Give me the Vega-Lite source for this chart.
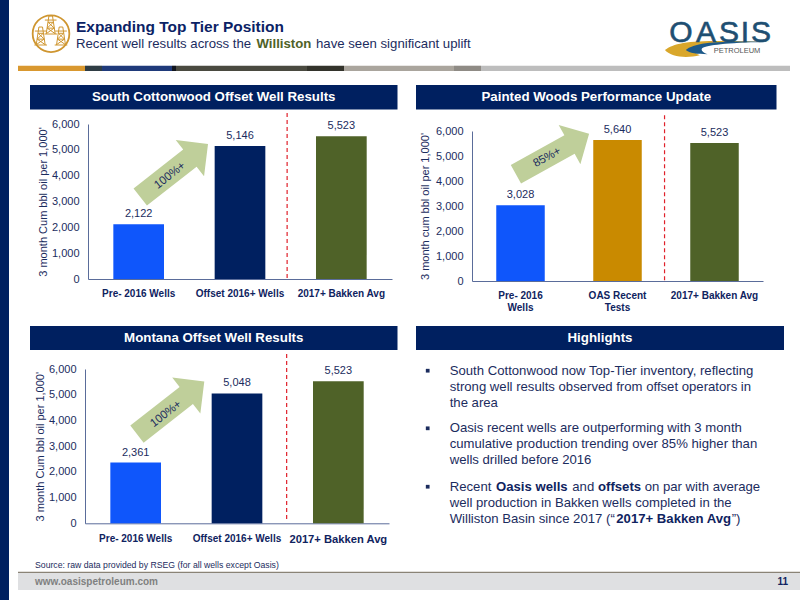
{"$schema":"https://vega.github.io/schema/vega-lite/v6.json","padding":0,"background":"white","spacing":0,"resolve":{"scale":{"color":"independent"}},"config":{"view":{"stroke":null},"font":"Liberation Sans","text":{"font":"Liberation Sans"},"axis":{"labelFont":"Liberation Sans","titleFont":"Liberation Sans"},"axisY":{"tickCount":7,"labelOverlap":false}},"hconcat":[
{"data":{"values":[]},"mark":"rect","width":9,"height":600,"view":{"fill":"#002060"}},
{"spacing":0,"resolve":{"scale":{"color":"independent"}},"vconcat":[
{"width":791,"height":71,"layer":[
{"data":{"values":[{"part":"gold","start":9,"end":76},{"part":"slate","start":76,"end":93},{"part":"navy","start":93,"end":163},{"part":"black","start":163,"end":167},{"part":"olive","start":167,"end":298},{"part":"dark","start":298,"end":335},{"part":"taupe","start":335,"end":445},{"part":"stone","start":445,"end":472},{"part":"grey","start":472,"end":781}]},"mark":"rect","encoding":{"x":{"field":"start","type":"quantitative","axis":null,"scale":{"domain":[0,791]}},"x2":{"field":"end"},"y":{"datum":65.7,"type":"quantitative","axis":null,"scale":{"domain":[71,0]}},"y2":{"datum":71},"color":{"field":"part","type":"nominal","legend":null,"scale":{"domain":["gold","slate","navy","black","olive","dark","taupe","stone","grey"],"range":["#d9982f","#2f3d44","#1f3a7a","#12161f","#4a4a40","#33332b","#aaa59d","#8f8b85","#bdbdbd"]}}}},
{"data":{"values":[{"col":67,"line":27.3,"t":"Expanding Top Tier Position"}]},"mark":{"type":"text","align":"left","fontSize":15.45,"fontWeight":"bold","color":"#0b2265"},"encoding":{"x":{"field":"col","type":"quantitative","axis":null,"scale":{"domain":[0,791]}},"y":{"field":"line","type":"quantitative","axis":null,"scale":{"domain":[71,0]}},"text":{"field":"t"}}},
{"data":{"values":[{"col":67,"line":43.5,"t":"Recent well results across the"},{"col":307,"line":43.5,"t":"have seen significant uplift"}]},"mark":{"type":"text","align":"left","fontSize":13.2,"color":"#1b2c5e"},"encoding":{"x":{"field":"col","type":"quantitative","axis":null,"scale":{"domain":[0,791]}},"y":{"field":"line","type":"quantitative","axis":null,"scale":{"domain":[71,0]}},"text":{"field":"t"}}},
{"data":{"values":[{"col":247.5,"line":43.5,"t":"Williston"}]},"mark":{"type":"text","align":"left","fontSize":13.2,"fontWeight":"bold","color":"#4f6228"},"encoding":{"x":{"field":"col","type":"quantitative","axis":null,"scale":{"domain":[0,791]}},"y":{"field":"line","type":"quantitative","axis":null,"scale":{"domain":[71,0]}},"text":{"field":"t"}}},
{"data":{"values":[{"col":42,"line":33.7}]},"mark":{"type":"point","shape":"circle","size":1345,"color":"#cf9630","strokeWidth":1.8,"opacity":1},"encoding":{"x":{"field":"col","type":"quantitative","axis":null,"scale":{"domain":[0,791]}},"y":{"field":"line","type":"quantitative","axis":null,"scale":{"domain":[71,0]}}}},
{"data":{"values":[{"col":41.7,"line":25},{"col":31.7,"line":36},{"col":52,"line":36}]},"mark":{"type":"point","shape":"M-0.5,1 L-0.2,-1 L0.2,-1 L0.5,1 M-0.7,1 L0.7,1 M-0.38,0.35 L0.38,0.35 M-0.28,-0.3 L0.28,-0.3 M-0.65,-0.55 L0.65,-0.55 M-0.4,0.35 L0.28,-0.3 M0.4,0.35 L-0.28,-0.3 M-0.48,0.95 L0.38,0.35 M0.48,0.95 L-0.38,0.35","size":324,"color":"#cf9630","strokeWidth":1,"opacity":1},"encoding":{"x":{"field":"col","type":"quantitative","axis":null,"scale":{"domain":[0,791]}},"y":{"field":"line","type":"quantitative","axis":null,"scale":{"domain":[71,0]}}}},
{"data":{"values":[{"col":709,"line":47}]},"mark":{"type":"point","shape":"M-1.02,0.06 C-0.8,-0.12 -0.4,-0.14 1,-0.1 C0.2,-0.1 -0.3,-0.05 -0.42,0.06 C-0.45,0.12 -0.4,0.14 -0.35,0.16 C-0.6,0.22 -0.9,0.2 -1.02,0.06 Z","size":10816,"filled":true,"color":"#d9a72b","opacity":1,"strokeWidth":0},"encoding":{"x":{"field":"col","type":"quantitative","axis":null,"scale":{"domain":[0,791]}},"y":{"field":"line","type":"quantitative","axis":null,"scale":{"domain":[71,0]}}}},
{"data":{"values":[{"col":709,"line":47}]},"mark":{"type":"point","shape":"M-0.62,0.06 C-0.45,-0.1 0.1,-0.12 1,-0.1 C0.2,-0.09 -0.2,-0.04 -0.3,0.02 C-0.34,0.05 -0.3,0.1 -0.2,0.14 C-0.4,0.14 -0.55,0.12 -0.62,0.06 Z","size":10816,"filled":true,"color":"#1d5a8a","opacity":1,"strokeWidth":0},"encoding":{"x":{"field":"col","type":"quantitative","axis":null,"scale":{"domain":[0,791]}},"y":{"field":"line","type":"quantitative","axis":null,"scale":{"domain":[71,0]}}}},
{"data":{"values":[{"col":672,"t":"O"},{"col":697,"t":"A"},{"col":720,"t":"S"},{"col":736,"t":"I"},{"col":752,"t":"S"}]},"mark":{"type":"text","align":"center","baseline":"alphabetic","fontSize":30,"color":"#1e4f72","stroke":"#1e4f72","strokeWidth":0.6},"encoding":{"x":{"field":"col","type":"quantitative","axis":null,"scale":{"domain":[0,791]}},"y":{"datum":41.5,"type":"quantitative","axis":null,"scale":{"domain":[71,0]}},"text":{"field":"t"}}},
{"data":{"values":[{"col":728,"line":50.5,"t":"PETROLEUM"}]},"mark":{"type":"text","align":"center","fontSize":7.5,"color":"#555555"},"encoding":{"x":{"field":"col","type":"quantitative","axis":null,"scale":{"domain":[0,791]}},"y":{"field":"line","type":"quantitative","axis":null,"scale":{"domain":[71,0]}},"text":{"field":"t"}}}
]},
{"spacing":0,"resolve":{"scale":{"color":"independent"}},"hconcat":[
{"data":{"values":[]},"mark":"rect","width":20.5,"height":1},
{"spacing":0,"resolve":{"scale":{"color":"independent"}},"vconcat":[
{"data":{"values":[]},"mark":"rect","width":1,"height":14},
{"data":{"values":[{"t":"South Cottonwood Offset Well Results"}]},"width":367.5,"height":24.5,"view":{"fill":"#002060"},"mark":{"type":"text","fontSize":13.3,"fontWeight":"bold","color":"white"},"encoding":{"text":{"field":"t"}}},
{"data":{"values":[]},"mark":"rect","width":1,"height":1},
{"spacing":0,"hconcat":[
{"data":{"values":[]},"mark":"rect","width":6.5,"height":1},
{"width":304,"height":155,"encoding":{"x":{"field":"cat","type":"nominal","sort":null,"title":null,"scale":{"domain":["Pre- 2016 Wells","Offset 2016+ Wells","2017+ Bakken Avg"],"paddingInner":0.5,"paddingOuter":0.25},"axis":{"labelAngle":0,"labelFontSize":10,"labelFontWeight":"bold","labelColor":"#0f2360","labelPadding":9,"labelLimit":200,"ticks":false,"domainColor":"#5a6c9a"}},"y":{"type":"quantitative","scale":{"domain":[0,6000],"nice":false}}},"layer":[
{"data":{"values":[{"cat":"Pre- 2016 Wells","oil":2122},{"cat":"Offset 2016+ Wells","oil":5146},{"cat":"2017+ Bakken Avg","oil":5523}]},"mark":"bar","encoding":{"y":{"field":"oil","type":"quantitative","title":"3 month Cum bbl oil per 1,000'","scale":{"domain":[0,6000],"nice":false},"axis":{"values":[0,1000,2000,3000,4000,5000,6000],"tickCount":7,"labelOverlap":false,"format":",d","grid":false,"ticks":false,"labelFontSize":11,"labelColor":"#1b2c5e","labelPadding":9,"titleFontSize":11,"titleFontWeight":"normal","titleColor":"#1b2c5e","titlePadding":3,"domainColor":"#5a6c9a"}},"color":{"field":"cat","type":"nominal","legend":null,"scale":{"domain":["Pre- 2016 Wells","Offset 2016+ Wells","2017+ Bakken Avg"],"range":["#0f56fb","#002060","#4f6228"]}}}},
{"data":{"values":[{"cat":"Pre- 2016 Wells","oil":2122},{"cat":"Offset 2016+ Wells","oil":5146},{"cat":"2017+ Bakken Avg","oil":5523}]},"mark":{"type":"text","baseline":"bottom","dy":-5,"fontSize":11,"color":"#1b2c5e"},"encoding":{"y":{"field":"oil","type":"quantitative"},"text":{"field":"oil","type":"quantitative","format":",d"}}},
{"data":{"values":[{"cat":"Offset 2016+ Wells","lo":40,"hi":6465}]},"mark":{"type":"rule","color":"#e0202a","strokeDash":[4,3],"strokeWidth":1.2},"encoding":{"x":{"field":"cat","type":"nominal","bandPosition":1.43},"y":{"field":"lo","type":"quantitative"},"y2":{"field":"hi"}}},
{"data":{"values":[{"cat":"Pre- 2016 Wells","pos":4200}]},"mark":{"type":"point","shape":"M-1,-0.253 L0.465,-0.253 L0.465,-0.535 L1,0 L0.465,0.535 L0.465,0.253 L-1,0.253 Z","size":7396,"angle":-38,"filled":true,"color":"#bfcf9a","opacity":1,"strokeWidth":0},"encoding":{"x":{"field":"cat","type":"nominal","bandPosition":1.2},"y":{"field":"pos","type":"quantitative"}}},
{"data":{"values":[{"cat":"Pre- 2016 Wells","pos":4000,"t":"100%+"}]},"mark":{"type":"text","angle":322,"fontSize":11.5,"color":"#1b2c5e"},"encoding":{"x":{"field":"cat","type":"nominal","bandPosition":1.12},"y":{"field":"pos","type":"quantitative"},"text":{"field":"t"}}}
]}
]},
{"data":{"values":[]},"mark":"rect","width":1,"height":27.5},
{"data":{"values":[{"t":"Montana Offset Well Results"}]},"width":367.5,"height":24,"view":{"fill":"#002060"},"mark":{"type":"text","fontSize":13.3,"fontWeight":"bold","color":"white"},"encoding":{"text":{"field":"t"}}},
{"data":{"values":[]},"mark":"rect","width":1,"height":0.8},
{"spacing":0,"hconcat":[
{"data":{"values":[]},"mark":"rect","width":3.5,"height":1},
{"width":304,"height":154.3,"encoding":{"x":{"field":"cat","type":"nominal","sort":null,"title":null,"scale":{"domain":["Pre- 2016 Wells","Offset 2016+ Wells","2017+ Bakken Avg"],"paddingInner":0.5,"paddingOuter":0.25},"axis":{"labelAngle":0,"labelFontSize":{"condition":{"test":"datum.label == '2017+ Bakken Avg'","value":11.2},"value":10},"labelFontWeight":"bold","labelColor":"#0f2360","labelPadding":10,"labelLimit":200,"ticks":false,"domainColor":"#5a6c9a"}},"y":{"type":"quantitative","scale":{"domain":[0,6000],"nice":false}}},"layer":[
{"data":{"values":[{"cat":"Pre- 2016 Wells","oil":2361},{"cat":"Offset 2016+ Wells","oil":5048},{"cat":"2017+ Bakken Avg","oil":5523}]},"mark":"bar","encoding":{"y":{"field":"oil","type":"quantitative","title":"3 month Cum bbl oil per 1,000'","scale":{"domain":[0,6000],"nice":false},"axis":{"values":[0,1000,2000,3000,4000,5000,6000],"tickCount":7,"labelOverlap":false,"format":",d","grid":false,"ticks":false,"labelFontSize":11,"labelColor":"#1b2c5e","labelPadding":9,"titleFontSize":11,"titleFontWeight":"normal","titleColor":"#1b2c5e","titlePadding":3.3,"domainColor":"#5a6c9a"}},"color":{"field":"cat","type":"nominal","legend":null,"scale":{"domain":["Pre- 2016 Wells","Offset 2016+ Wells","2017+ Bakken Avg"],"range":["#0f56fb","#002060","#4f6228"]}}}},
{"data":{"values":[{"cat":"Pre- 2016 Wells","oil":2361},{"cat":"Offset 2016+ Wells","oil":5048},{"cat":"2017+ Bakken Avg","oil":5523}]},"mark":{"type":"text","baseline":"bottom","dy":-5,"fontSize":11,"color":"#1b2c5e"},"encoding":{"y":{"field":"oil","type":"quantitative"},"text":{"field":"oil","type":"quantitative","format":",d"}}},
{"data":{"values":[{"cat":"Offset 2016+ Wells","lo":170,"hi":6660}]},"mark":{"type":"rule","color":"#e0202a","strokeDash":[4,3],"strokeWidth":1.2},"encoding":{"x":{"field":"cat","type":"nominal","bandPosition":1.48},"y":{"field":"lo","type":"quantitative"},"y2":{"field":"hi"}}},
{"data":{"values":[{"cat":"Pre- 2016 Wells","pos":4490}]},"mark":{"type":"point","shape":"M-1,-0.253 L0.465,-0.253 L0.465,-0.535 L1,0 L0.465,0.535 L0.465,0.253 L-1,0.253 Z","size":7300,"angle":-38,"filled":true,"color":"#bfcf9a","opacity":1,"strokeWidth":0},"encoding":{"x":{"field":"cat","type":"nominal","bandPosition":1.19},"y":{"field":"pos","type":"quantitative"}}},
{"data":{"values":[{"cat":"Pre- 2016 Wells","pos":4250,"t":"100%+"}]},"mark":{"type":"text","angle":322,"fontSize":11.5,"color":"#1b2c5e"},"encoding":{"x":{"field":"cat","type":"nominal","bandPosition":1.1},"y":{"field":"pos","type":"quantitative"},"text":{"field":"t"}}}
]}
]}
]},
{"data":{"values":[]},"mark":"rect","width":18,"height":1},
{"spacing":0,"resolve":{"scale":{"color":"independent"}},"vconcat":[
{"data":{"values":[]},"mark":"rect","width":1,"height":14},
{"data":{"values":[{"t":"Painted Woods Performance Update"}]},"width":360.5,"height":24.5,"view":{"fill":"#002060"},"mark":{"type":"text","fontSize":13.3,"fontWeight":"bold","color":"white"},"encoding":{"text":{"field":"t"}}},
{"data":{"values":[]},"mark":"rect","width":1,"height":0.8},
{"spacing":0,"hconcat":[
{"data":{"values":[]},"mark":"rect","width":3,"height":1},
{"width":291,"height":150,"encoding":{"x":{"field":"cat","type":"nominal","sort":null,"title":null,"scale":{"domain":["Pre- 2016 Wells","OAS Recent Tests","2017+ Bakken Avg"],"paddingInner":0.5,"paddingOuter":0.25},"axis":{"labelAngle":0,"labelFontSize":10,"labelFontWeight":"bold","labelColor":"#0f2360","labelPadding":9,"labelLimit":200,"labelLineHeight":12,"ticks":false,"domainColor":"#5a6c9a","labelExpr":"datum.label == 'Pre- 2016 Wells' ? ['Pre- 2016','Wells'] : datum.label == 'OAS Recent Tests' ? ['OAS Recent','Tests'] : datum.label"}},"y":{"type":"quantitative","scale":{"domain":[0,6000],"nice":false}}},"layer":[
{"data":{"values":[{"cat":"Pre- 2016 Wells","oil":3028},{"cat":"OAS Recent Tests","oil":5640},{"cat":"2017+ Bakken Avg","oil":5523}]},"mark":"bar","encoding":{"y":{"field":"oil","type":"quantitative","title":"3 month cum bbl oil per 1,000'","scale":{"domain":[0,6000],"nice":false},"axis":{"values":[0,1000,2000,3000,4000,5000,6000],"tickCount":7,"labelOverlap":false,"format":",d","grid":false,"ticks":false,"labelFontSize":11,"labelColor":"#1b2c5e","labelPadding":9,"titleFontSize":11,"titleFontWeight":"normal","titleColor":"#1b2c5e","titlePadding":5,"domainColor":"#5a6c9a"}},"color":{"field":"cat","type":"nominal","legend":null,"scale":{"domain":["Pre- 2016 Wells","OAS Recent Tests","2017+ Bakken Avg"],"range":["#0f56fb","#c98a00","#4f6228"]}}}},
{"data":{"values":[{"cat":"Pre- 2016 Wells","oil":3028},{"cat":"OAS Recent Tests","oil":5640},{"cat":"2017+ Bakken Avg","oil":5523}]},"mark":{"type":"text","baseline":"bottom","dy":-5,"fontSize":11,"color":"#1b2c5e"},"encoding":{"y":{"field":"oil","type":"quantitative"},"text":{"field":"oil","type":"quantitative","format":",d"}}},
{"data":{"values":[{"cat":"OAS Recent Tests","lo":30,"hi":6748}]},"mark":{"type":"rule","color":"#e0202a","strokeDash":[4,3],"strokeWidth":1.2},"encoding":{"x":{"field":"cat","type":"nominal","bandPosition":1.47},"y":{"field":"lo","type":"quantitative"},"y2":{"field":"hi"}}},
{"data":{"values":[{"cat":"Pre- 2016 Wells","pos":5080}]},"mark":{"type":"point","shape":"M-1,-0.253 L0.465,-0.253 L0.465,-0.535 L1,0 L0.465,0.535 L0.465,0.253 L-1,0.253 Z","size":7000,"angle":-29,"filled":true,"color":"#bfcf9a","opacity":1,"strokeWidth":0},"encoding":{"x":{"field":"cat","type":"nominal","bandPosition":1.16},"y":{"field":"pos","type":"quantitative"}}},
{"data":{"values":[{"cat":"Pre- 2016 Wells","pos":4940,"t":"85%+"}]},"mark":{"type":"text","angle":331,"fontSize":11.5,"color":"#1b2c5e"},"encoding":{"x":{"field":"cat","type":"nominal","bandPosition":1.05},"y":{"field":"pos","type":"quantitative"},"text":{"field":"t"}}}
]}
]},
{"data":{"values":[]},"mark":"rect","width":1,"height":14},
{"data":{"values":[{"t":"Highlights"}]},"width":368,"height":24,"view":{"fill":"#002060"},"mark":{"type":"text","fontSize":13.3,"fontWeight":"bold","color":"white"},"encoding":{"text":{"field":"t"}}},
{"data":{"values":[]},"mark":"rect","width":1,"height":10},
{"width":368,"height":172,"layer":[
{"data":{"values":[{"line":0},{"line":3.6},{"line":7.25}]},"mark":{"type":"point","shape":"square","size":14,"filled":true,"color":"#1b2c5e","opacity":1},"encoding":{"x":{"datum":11.7,"type":"quantitative","axis":null,"scale":{"domain":[0,368]}},"y":{"field":"line","type":"quantitative","axis":null,"scale":{"domain":[10.08,-0.669]}}}},
{"data":{"values":[{"col":33.7,"line":0,"t":"South Cottonwood now Top-Tier inventory, reflecting"},{"col":33.7,"line":1,"t":"strong well results observed from offset operators in"},{"col":33.7,"line":2,"t":"the area"},{"col":33.7,"line":3.6,"t":"Oasis recent wells are outperforming with 3 month"},{"col":33.7,"line":4.6,"t":"cumulative production trending over 85% higher than"},{"col":33.7,"line":5.6,"t":"wells drilled before 2016"},{"col":33.7,"line":7.25,"t":"Recent"},{"col":156.3,"line":7.25,"t":"and"},{"col":228.7,"line":7.25,"t":"on par with average"},{"col":33.7,"line":8.25,"t":"well production in Bakken wells completed in the"},{"col":33.7,"line":9.25,"t":"Williston Basin since 2017 (“"},{"col":315.7,"line":9.25,"t":"”)"}]},"mark":{"type":"text","align":"left","fontSize":13.15,"color":"#1b2c5e"},"encoding":{"x":{"field":"col","type":"quantitative","axis":null,"scale":{"domain":[0,368]}},"y":{"field":"line","type":"quantitative","axis":null,"scale":{"domain":[10.08,-0.669]}},"text":{"field":"t"}}},
{"data":{"values":[{"col":80,"line":7.25,"t":"Oasis wells"},{"col":182,"line":7.25,"t":"offsets"},{"col":200.3,"line":9.25,"t":"2017+ Bakken Avg"}]},"mark":{"type":"text","align":"left","fontSize":13.15,"fontWeight":"bold","color":"#0f2360"},"encoding":{"x":{"field":"col","type":"quantitative","axis":null,"scale":{"domain":[0,368]}},"y":{"field":"line","type":"quantitative","axis":null,"scale":{"domain":[10.08,-0.669]}},"text":{"field":"t"}}}
]},
{"data":{"values":[]},"mark":"rect","width":1,"height":22.2}
]}
]},
{"width":791,"height":46,"layer":[
{"data":{"values":[{"part":"line","start":9,"end":791,"top":16.7,"bottom":18},{"part":"band","start":9,"end":791,"top":18,"bottom":35}]},"mark":"rect","encoding":{"x":{"field":"start","type":"quantitative","axis":null,"scale":{"domain":[0,791]}},"x2":{"field":"end"},"y":{"field":"top","type":"quantitative","axis":null,"scale":{"domain":[46,0]}},"y2":{"field":"bottom"},"color":{"field":"part","type":"nominal","legend":null,"scale":{"domain":["line","band"],"range":["#8a8376","#dfe0e2"]}}}},
{"data":{"values":[{"col":26,"line":10,"t":"Source: raw data provided by RSEG (for all wells except Oasis)"}]},"mark":{"type":"text","align":"left","fontSize":8.7,"color":"#1b2c5e"},"encoding":{"x":{"field":"col","type":"quantitative","axis":null,"scale":{"domain":[0,791]}},"y":{"field":"line","type":"quantitative","axis":null,"scale":{"domain":[46,0]}},"text":{"field":"t"}}},
{"data":{"values":[{"col":26,"line":27,"t":"www.oasispetroleum.com"}]},"mark":{"type":"text","align":"left","fontSize":10,"fontWeight":"bold","color":"#808080"},"encoding":{"x":{"field":"col","type":"quantitative","axis":null,"scale":{"domain":[0,791]}},"y":{"field":"line","type":"quantitative","axis":null,"scale":{"domain":[46,0]}},"text":{"field":"t"}}},
{"data":{"values":[{"col":779,"line":27,"t":"11"}]},"mark":{"type":"text","align":"right","fontSize":10,"fontWeight":"bold","color":"#0f2360"},"encoding":{"x":{"field":"col","type":"quantitative","axis":null,"scale":{"domain":[0,791]}},"y":{"field":"line","type":"quantitative","axis":null,"scale":{"domain":[46,0]}},"text":{"field":"t"}}}
]}
]}
]}
